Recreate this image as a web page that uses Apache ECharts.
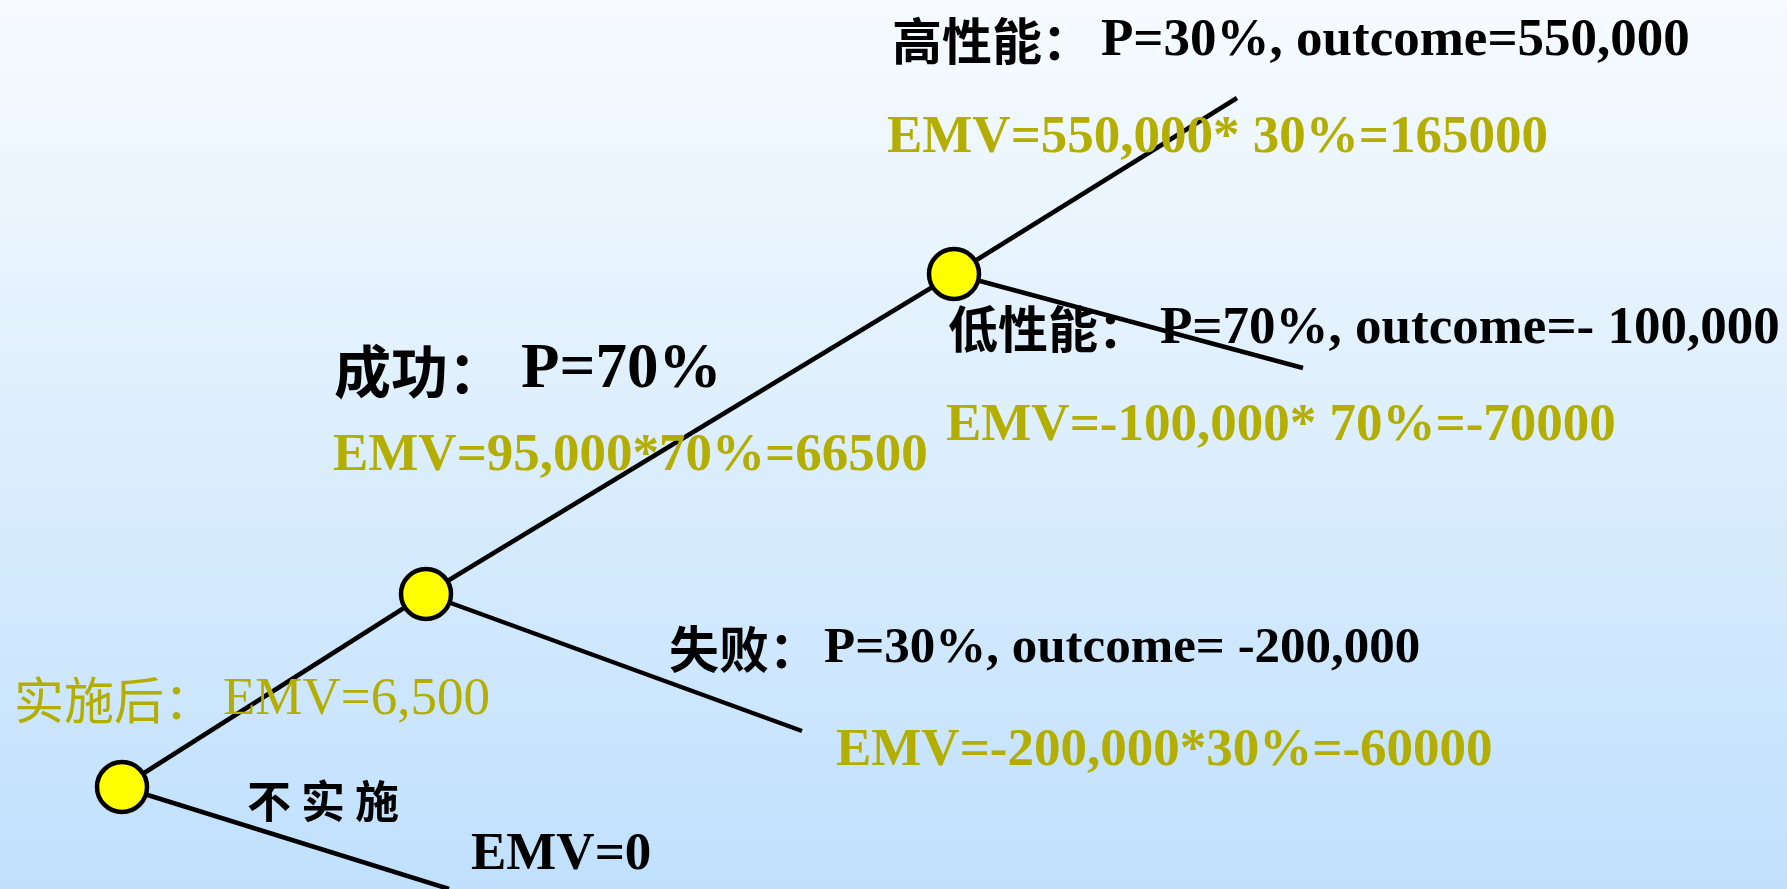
<!DOCTYPE html>
<html>
<head>
<meta charset="utf-8">
<script src="https://cdn.jsdelivr.net/npm/echarts@6/dist/echarts.min.js"></script>
<style>
  html, body { margin: 0; padding: 0; }
  #tree { width: 1787px; height: 889px; }
</style>
</head>
<body>
<div id="tree"></div>
<script>
// decision tree nodes, in diagram units (x to the right, y downward)
const nodeNames = ['root', 'test', 'perf', 'skip', 'fail', 'high', 'low']
const nodeX = [122, 426, 954, 449, 802, 1237, 1303]
const nodeY = [787, 594, 274, 889, 731, 98, 368]
const nodeIsChance = [true, true, true, false, false, false, false]
const edges = [['root', 'test'], ['root', 'skip'], ['test', 'perf'], ['test', 'fail'], ['perf', 'high'], ['perf', 'low']]

// text on the diagram: chinese head, latin body, anchor (left x, middle y), kind
const labelCn = ['高性能：', '', '低性能：', '', '成功：', '', '失败：', '', '实施后：', '不 实 施', '']
const labelEn = [
  'P=30%, outcome=550,000',
  'EMV=550,000* 30%=165000',
  'P=70%, outcome=- 100,000',
  'EMV=-100,000* 70%=-70000',
  'P=70%',
  'EMV=95,000*70%=66500',
  'P=30%, outcome= -200,000',
  'EMV=-200,000*30%=-60000',
  'EMV=6,500',
  '',
  'EMV=0'
]
const labelX = [892, 887, 948, 946, 334, 333, 669, 836, 14, 247, 471]
const labelY = [41, 138, 329, 426, 371, 456, 649, 751, 700, 801, 855]
const labelKind = ['prob', 'emv', 'prob', 'emv', 'big', 'emv', 'probLow', 'emv', 'thin', 'small', 'final']

// latin text starts at a fixed x after the chinese head
const latinStart = [1101, null, 1160, null, 521, null, 824, null, 223, null, null]

const OLIVE = '#B3AE00'
const CN = '"Noto Sans CJK SC", sans-serif'
const EN = '"Liberation Serif", "Times New Roman", serif'

const kindStyle = {
  prob: { cnSize: 50, enSize: 53, color: '#000000', weight: 'bold' },
  probLow: { cnSize: 50, enSize: 51, color: '#000000', weight: 'bold' },
  emv: { cnSize: 50, enSize: 53, color: OLIVE, weight: 'bold' },
  big: { cnSize: 57, enSize: 63, color: '#000000', weight: 'bold' },
  thin: { cnSize: 50, enSize: 53, color: OLIVE, weight: 'normal' },
  small: { cnSize: 44, enSize: 44, color: '#000000', weight: 'bold' },
  final: { cnSize: 50, enSize: 53, color: '#000000', weight: 'bold' }
}

const chart = echarts.init(document.getElementById('tree'))

const graphNodes = nodeNames.map((name, i) => ({
  name: name,
  value: [nodeX[i], nodeY[i]],
  symbolSize: nodeIsChance[i] ? 50 : 0
}))

const graphLinks = edges.map(e => ({ source: e[0], target: e[1] }))

const labelData = labelEn.map((t, i) => {
  const k = kindStyle[labelKind[i]]
  const rich = {
    cn: {
      fontFamily: CN,
      fontSize: k.cnSize,
      fontWeight: k.weight,
      color: k.color,
      verticalAlign: 'middle'
    },
    en: {
      fontFamily: EN,
      fontSize: k.enSize,
      fontWeight: k.weight,
      color: k.color,
      verticalAlign: 'middle'
    }
  }
  if (latinStart[i] !== null) {
    rich.cn.width = latinStart[i] - labelX[i]
  }
  let text = ''
  if (labelCn[i]) text += '{cn|' + labelCn[i] + '}'
  if (t) text += '{en|' + t + '}'
  return {
    value: [labelX[i], labelY[i]],
    label: { formatter: text, rich: rich, color: k.color, opacity: 1 }
  }
})

chart.setOption({
  backgroundColor: {
    type: 'linear', x: 0, y: 0, x2: 0, y2: 1,
    colorStops: [
      { offset: 0, color: '#F7FBFF' },
      { offset: 0.5, color: '#DCEEFD' },
      { offset: 1, color: '#C0E0FD' }
    ]
  },
  animation: false,
  grid: { left: 0, right: 0, top: 0, bottom: 0 },
  xAxis: { type: 'value', min: 0, max: 1787, show: false },
  yAxis: { type: 'value', min: 0, max: 889, inverse: true, show: false },
  series: [
    {
      type: 'graph',
      coordinateSystem: 'cartesian2d',
      layout: 'none',
      symbol: 'circle',
      data: graphNodes,
      links: graphLinks,
      itemStyle: { color: '#FFFF00', borderColor: '#000000', borderWidth: 4.5, opacity: 1 },
      lineStyle: { color: '#000000', width: 4.5, opacity: 1, curveness: 0 },
      label: { show: false },
      emphasis: { disabled: true },
      z: 2
    },
    {
      type: 'scatter',
      symbolSize: 0,
      data: labelData,
      itemStyle: { opacity: 1 },
      label: { show: true, position: 'right', distance: 0 },
      emphasis: { disabled: true },
      z: 3
    }
  ]
})
</script>
</body>
</html>
